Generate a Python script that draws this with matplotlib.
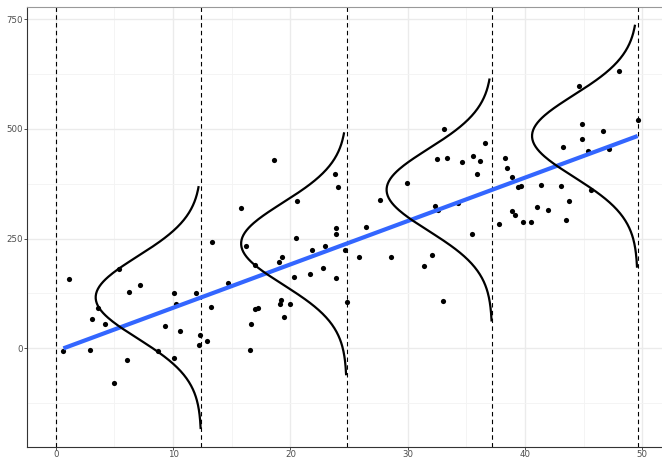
import numpy as np
import matplotlib
matplotlib.use("Agg")
import matplotlib.pyplot as plt

# points
x = [0.65, 1.16, 2.95, 3.07, 3.58, 4.2, 4.97, 5.4, 6.08, 6.28, 7.16, 8.75, 9.29,
     10.08, 10.28, 10.11, 10.62, 11.99, 12.28, 12.22,
     12.9, 13.27, 13.35, 14.66, 15.8, 16.25, 17.0, 16.68, 16.59, 17.0, 17.27,
     18.58, 19.0, 19.3, 19.12, 19.2, 19.49, 20.0, 20.3, 20.5, 20.57, 21.7, 21.87,
     22.76, 22.93, 23.84, 24.07, 23.9, 23.86, 23.86, 24.66, 24.86,
     25.88, 26.45, 27.65, 28.6, 29.97, 31.4, 32.1, 32.34, 32.56, 32.53, 33.38,
     33.02, 33.1, 34.3, 34.6, 35.6, 36.17, 35.9, 36.6, 35.5,
     37.8, 38.3, 38.5, 38.87, 39.44, 39.67, 38.93, 39.16, 39.86, 40.5, 41.03,
     41.35, 41.94, 43.05, 43.5, 43.78, 45.6, 43.2, 44.6, 44.9, 44.84, 45.4,
     46.68, 47.2, 48.0, 49.6]
y = [-6, 157, -3, 66, 92, 55, -80, 180, -27, 129, 145, -6, 50,
     125, 102, -23, 40, 126, 31, 8,
     16, 95, 243, 148, 320, 232, 190, 55, -3, 89, 91,
     430, 196, 207, 100, 110, 71, 102, 162, 251, 335, 169, 223,
     182, 232, 396, 367, 273, 261, 160, 224, 106,
     209, 277, 337, 207, 377, 188, 213, 324, 314, 431, 434,
     107, 499, 330, 425, 437, 427, 396, 467, 260,
     283, 433, 410, 390, 367, 370, 313, 304, 288, 288, 323,
     373, 314, 369, 292, 336, 360, 459, 597, 511, 476, 449,
     494, 455, 632, 521]

breaks = [0, 12.4, 24.8, 37.2, 49.6]
resid_sd = 93
x = np.array(x)
y = np.array(y)

slope, intercept = np.polyfit(x, y, 1)

fig = plt.figure(figsize=(6.62, 4.59), dpi=100)
ax = fig.add_axes([26.7 / 662, 1 - 447 / 459, 640 / 662, 439.7 / 459])
ax.set_facecolor("white")

ax.set_xlim(-2.48, 52.08)
ax.set_ylim(-225, 777)

ax.set_xticks([0, 10, 20, 30, 40, 50])
ax.set_xticks([5, 15, 25, 35, 45], minor=True)
ax.set_yticks([0, 250, 500, 750])
ax.set_yticks([-125, 125, 375, 625], minor=True)
ax.grid(which="major", color="#EBEBEB", lw=1.0, zorder=0)
ax.grid(which="minor", color="#F3F3F3", lw=0.6, zorder=0)
ax.tick_params(which="major", length=2, width=0.6, color="#333333",
               labelsize=6.2, labelcolor="#4D4D4D", pad=1)
ax.tick_params(axis="x", pad=0.5)
ax.tick_params(which="minor", length=0)
for s in ["left", "bottom"]:
    ax.spines[s].set_color("#333333")
    ax.spines[s].set_linewidth(0.8)
for s in ["top", "right"]:
    ax.spines[s].set_color("#999999")
    ax.spines[s].set_linewidth(0.8)

for b in breaks:
    ax.axvline(b, color="black", lw=0.8, linestyle=(0, (4, 3)), zorder=2)

ax.scatter(x, y, s=14, color="black", zorder=3, linewidths=0)

xl = np.array([x.min(), x.max()])
ax.plot(xl, intercept + slope * xl, color="#3366FF", lw=3, zorder=4,
        solid_capstyle="butt")

for b in breaks[1:]:
    c = intercept + slope * b
    z = np.linspace(-3.2, 2.7, 200)
    ax.plot(b - 9.0 * np.exp(-z ** 2 / 2), c + z * resid_sd, color="black",
            lw=1.6, zorder=5)

fig.savefig("out.png", dpi=100)
